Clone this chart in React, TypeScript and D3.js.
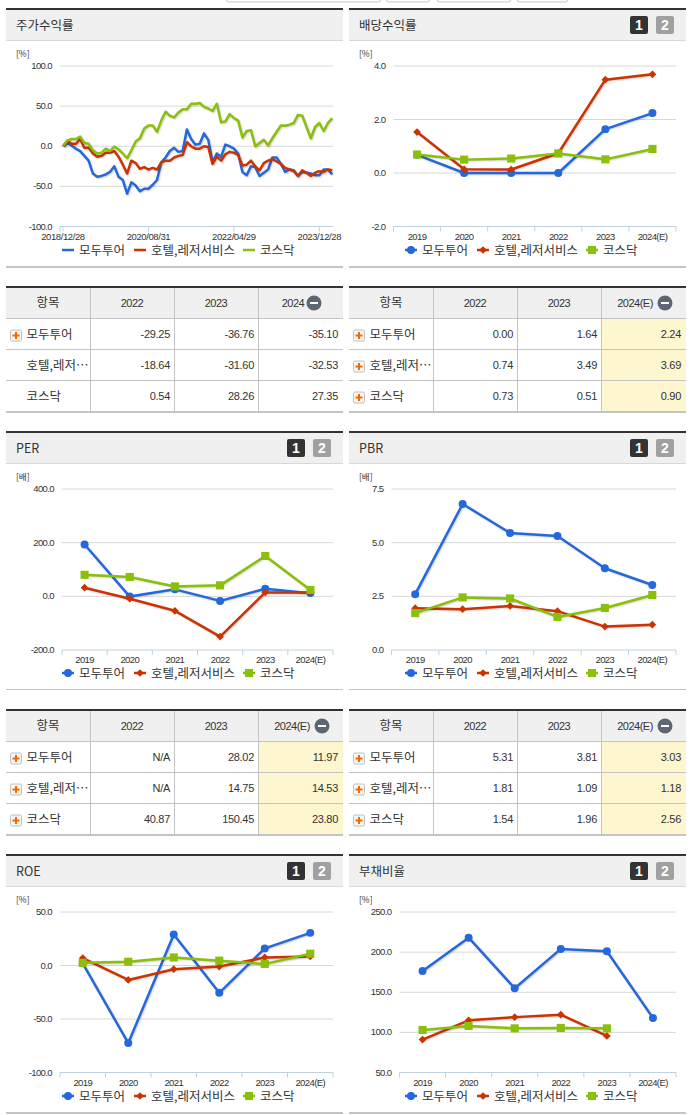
import React from 'react';
import * as d3 from 'd3';

const seriesNames = ['모두투어', '호텔,레저서비스', '코스닥'];
const seriesColors = ['#2468dc', '#cc3300', '#8abf0a'];
const years = ['2019', '2020', '2021', '2022', '2023', '2024(E)'];

// monthly returns, 2018/12/28 onward
const returnDates = ['2018/12/28', '2020/08/31', '2022/04/29', '2023/12/28'];
const returnTickIndex = [0, 20, 40, 60];
const returnTour = [0, 4, 1, -3, -6, -12, -18, -34, -38, -37, -35, -32, -25, -38, -42, -59, -45, -49, -56, -53, -53, -48, -42, -20, -14, -6, -2, -7, -6, 21, 9, 2, 3, 16, 8, -20, -9, -13, 2, 0, -3, -9, -32, -36, -25, -26, -37, -33, -29, -14, -14, -22, -32, -29, -30, -37, -32, -33, -34, -36, -36, -29, -29, -35];
const returnHotel = [0, 7, 3, 3, 9, -2, -2, -9, -13, -12, -8, -8, -6, -13, -23, -34, -18, -21, -28, -26, -29, -27, -29, -20, -18, -18, -14, -12, -11, 5, 0, -3, -3, 0, -1, -22, -13, -18, -10, -7, -8, -11, -24, -23, -18, -25, -30, -21, -18, -16, -19, -22, -27, -29, -31, -37, -30, -33, -37, -33, -31, -32, -29, -30];
const returnKosdaq = [0, 7, 9, 9, 12, 4, 3, -5, -9, -8, -3, -6, -0.5, -4, -9, -15, -5, 6, 10, 22, 26, 26, 18, 32, 43, 38, 36, 42, 46, 46, 53, 53, 54, 49, 47, 44, 53, 30, 31, 40, 35, 32, 11, 19, 20, 0, 4, 8, 1, 10, 18, 26, 25.5, 27, 29, 39, 38, 24, 10, 24, 29, 19, 29, 35];

const dividendTour = [0.68, 0, 0, 0, 1.64, 2.24];
const dividendHotel = [1.53, 0.14, 0.13, 0.74, 3.49, 3.69];
const dividendKosdaq = [0.69, 0.5, 0.54, 0.73, 0.51, 0.9];

const perTour = [193, -1, 26, -17, 28.02, 11.97];
const perHotel = [32, -9, -54, -150, 14.75, 14.53];
const perKosdaq = [80, 72, 37, 40.87, 150.45, 23.8];

const pbrTour = [2.6, 6.8, 5.45, 5.31, 3.81, 3.03];
const pbrHotel = [1.95, 1.9, 2.05, 1.81, 1.09, 1.18];
const pbrKosdaq = [1.72, 2.45, 2.4, 1.54, 1.96, 2.56];

const roeTour = [2, -72.5, 29, -25.5, 16, 30.5];
const roeHotel = [7, -13.5, -3.5, -1, 7.5, 8.5];
const roeKosdaq = [2.5, 3.5, 7.5, 4.5, 1.5, 11];

const debtTour = [176.5, 218, 155, 204, 201, 118];
const debtHotel = [91, 115, 119, 122, 95.5, null];
const debtKosdaq = [103, 108, 105, 105.5, 105, null];

const tableRowNames = ['모두투어', '호텔,레저…', '코스닥'];
const returnTable = [['-29.25', '-36.76', '-35.10'], ['-18.64', '-31.60', '-32.53'], ['0.54', '28.26', '27.35']];
const dividendTable = [['0.00', '1.64', '2.24'], ['0.74', '3.49', '3.69'], ['0.73', '0.51', '0.90']];
const perTable = [['N/A', '28.02', '11.97'], ['N/A', '14.75', '14.53'], ['40.87', '150.45', '23.80']];
const pbrTable = [['5.31', '3.81', '3.03'], ['1.81', '1.09', '1.18'], ['1.54', '1.96', '2.56']];

const KR = '"Noto Sans CJK KR", "Noto Sans", sans-serif';
const NUM = '"Liberation Sans", Arial, sans-serif';
const INK = '#333';

function PanelFrame({ x, y, title, unit, pager, bottom, bottomWidth }: any) {
  return (
    <g transform={`translate(${x},${y})`}>
      <rect width={337} height={32} fill="#f0f0f0" />
      <rect width={337} height={2} fill="#333" />
      <rect y={32} width={337} height={1} fill="#d8d8d8" />
      <text x={10} y={21.5} fontFamily={KR} fontSize={12.5} fill={INK}>{title}</text>
      <text x={10} y={48.5} fontFamily={KR} fontSize={8.5} fill={INK}>{unit}</text>
      {pager && (
        <g fontFamily={NUM} fontWeight="bold" fontSize={14} fill="#fff" textAnchor="middle">
          <rect x={281} y={8} width={18} height={18} rx={2} fill="#333" />
          <text x={290} y={22}>1</text>
          <rect x={307} y={8} width={18} height={18} rx={2} fill="#a0a0a0" />
          <text x={316} y={22}>2</text>
        </g>
      )}
      <rect y={bottom} width={337} height={bottomWidth} fill="#c4c4c4" />
    </g>
  );
}

function Legend({ x, y, markers }: any) {
  const lineAt = [0, 72, 181];
  return (
    <g transform={`translate(${x},${y})`}>
      {seriesNames.map((name, i) => (
        <g key={name} transform={`translate(${lineAt[i]},0)`}>
          <line x1={0} x2={12} stroke={seriesColors[i]} strokeWidth={2.5} />
          {markers && <Marker kind={i} color={seriesColors[i]} x={6} y={0} />}
          <text x={17} y={4.5} fontFamily={KR} fontSize={12.5} fill={INK}>{name}</text>
        </g>
      ))}
    </g>
  );
}

const symbolTypes = [d3.symbolCircle, d3.symbolSquare, d3.symbolSquare];
const symbolSizes = [50, 30, 66];

function Marker({ kind, color, x, y }: any) {
  const d = d3.symbol().type(symbolTypes[kind]).size(symbolSizes[kind])() as string;
  // hotel series marker is a square turned into a diamond
  const turn = kind === 1 ? ' rotate(45)' : '';
  return <path d={d} fill={color} transform={`translate(${x},${y})${turn}`} />;
}

function Shadowed({ d }: { d: string }) {
  return (
    <g transform="translate(1,1)" fill="none" stroke="#000" strokeLinejoin="round">
      <path d={d} strokeWidth={5} strokeOpacity={0.03} />
      <path d={d} strokeWidth={3} strokeOpacity={0.07} />
      <path d={d} strokeWidth={1} strokeOpacity={0.12} />
    </g>
  );
}

function YearChart({ x0, x1, top, bottom, domain, ticks, series, tickFormat }: any) {
  const x = d3.scaleBand<string>().domain(years).range([x0, x1]);
  const y = d3.scaleLinear().domain(domain).range([bottom, top]);
  const cx = (i: number) => (x(years[i]) as number) + x.bandwidth() / 2;
  const line = d3
    .line<number | null>()
    .defined((v) => v !== null)
    .x((_, i) => cx(i))
    .y((v) => y(v as number));
  return (
    <g>
      {ticks.map((t: number) => (
        <g key={t}>
          <line x1={x0} x2={x1} y1={y(t)} y2={y(t)} stroke={t === domain[0] ? '#c0d0e0' : '#d8d8d8'} />
          <text x={x0 - 8} y={y(t) + 3} textAnchor="end" fontFamily={NUM} fontSize={9.5} letterSpacing={-0.6} fill={INK}>
            {tickFormat(t)}
          </text>
        </g>
      ))}
      {years.map((c) => (
        <g key={c}>
          <line x1={x(c)} x2={x(c)} y1={bottom} y2={bottom + 5} stroke="#c0d0e0" />
          <text x={(x(c) as number) + x.bandwidth() / 2} y={bottom + 13} textAnchor="middle" fontFamily={NUM} fontSize={9.5} letterSpacing={-0.6} fill={INK}>
            {c}
          </text>
        </g>
      ))}
      <line x1={x1} x2={x1} y1={bottom} y2={bottom + 5} stroke="#c0d0e0" />
      {series.map((values: (number | null)[], s: number) => (
        <g key={s}>
          <Shadowed d={line(values) as string} />
          <path d={line(values) as string} fill="none" stroke={seriesColors[s]} strokeWidth={2.5} strokeLinejoin="round" />
          {values.map((v, i) => v !== null && <Marker key={i} kind={s} color={seriesColors[s]} x={cx(i)} y={y(v)} />)}
        </g>
      ))}
    </g>
  );
}

function ReturnChart({ x0, x1, top, bottom }: any) {
  const x = d3.scaleLinear().domain([-0.7, 63.2]).range([x0, x1]);
  const y = d3.scaleLinear().domain([-100, 100]).range([bottom, top]);
  const line = d3
    .line<number>()
    .x((_, i) => x(i))
    .y((v) => y(v));
  return (
    <g>
      {[-100, -50, 0, 50, 100].map((t) => (
        <g key={t}>
          <line x1={x0} x2={x1} y1={y(t)} y2={y(t)} stroke={t === -100 ? '#c0d0e0' : '#d8d8d8'} />
          <text x={x0 - 8} y={y(t) + 3} textAnchor="end" fontFamily={NUM} fontSize={9.5} letterSpacing={-0.6} fill={INK}>
            {t.toFixed(1)}
          </text>
        </g>
      ))}
      <line x1={x0} x2={x0} y1={bottom} y2={bottom + 5} stroke="#c0d0e0" />
      {returnTickIndex.map((t, i) => (
        <g key={t}>
          <line x1={x(t)} x2={x(t)} y1={bottom} y2={bottom + 5} stroke="#c0d0e0" />
          <text x={x(t)} y={bottom + 13} textAnchor="middle" fontFamily={NUM} fontSize={9.5} letterSpacing={-0.4} fill={INK}>
            {returnDates[i]}
          </text>
        </g>
      ))}
      {[returnTour, returnHotel, returnKosdaq].map((values, s) => (
        <g key={s}>
          <Shadowed d={line(values) as string} />
          <path d={line(values) as string} fill="none" stroke={seriesColors[s]} strokeWidth={2.5} strokeLinejoin="round" />
        </g>
      ))}
    </g>
  );
}

function PlusIcon({ x, y }: any) {
  return (
    <g transform={`translate(${x},${y})`}>
      <rect x={-5.5} y={-5.5} width={11} height={11} rx={1.5} fill="#f6f6f6" stroke="#c0c0c0" />
      <path d="M-3.5,0H3.5M0,-3.5V3.5" stroke="#f26a00" strokeWidth={2} />
    </g>
  );
}

function DataTable({ x, y, columns, rows, plusRows, highlight }: any) {
  const colX = d3.scaleLinear().domain([0, 3]).range([0, 252]);
  const rowTop = d3.scaleLinear().domain([0, 3]).range([32, 125]);
  const lastCol = colX(3);
  return (
    <g transform={`translate(${x},${y})`}>
      <rect y={1} width={337} height={31} fill="#f0f0f0" />
      {highlight && <rect x={lastCol} y={rowTop(0)} width={85} height={93} fill="#fdf6cf" />}
      <rect width={337} height={2} fill="#333" />
      <text x={42} y={21} textAnchor="middle" fontFamily={KR} fontSize={12.5} fill={INK}>항목</text>
      {columns.map((c: string, i: number) => (
        <text key={c} x={colX(i + 1) + (i === 2 ? (highlight ? 34 : 35) : 42)} y={20.5} textAnchor="middle" fontFamily={NUM} fontSize={11} letterSpacing={-0.5} fill={INK}>
          {c}
        </text>
      ))}
      <circle cx={lastCol + (highlight ? 64 : 56)} cy={17} r={7.5} fill="#5f6673" />
      <rect x={lastCol + (highlight ? 60 : 52)} y={16} width={8} height={2} fill="#fff" />
      {[1, 2, 3].map((c) => (
        <line key={c} x1={colX(c) + 0.5} x2={colX(c) + 0.5} y1={2} y2={125} stroke="#c4c4c4" />
      ))}
      {[0, 1, 2].map((r) => (
        <line key={r} x1={0} x2={337} y1={rowTop(r) + 0.5} y2={rowTop(r) + 0.5} stroke="#c4c4c4" />
      ))}
      <rect y={125} width={337} height={2} fill="#c4c4c4" />
      {rows.map((row: string[], r: number) => {
        const mid = (rowTop(r) + rowTop(r + 1)) / 2;
        return (
          <g key={r}>
            {plusRows[r] && <PlusIcon x={10} y={mid + 2} />}
            <text x={20.5} y={mid + 5} fontFamily={KR} fontSize={12.5} fill={INK}>{tableRowNames[r]}</text>
            {row.map((v, c) => (
              <text key={c} x={colX(c + 2) - 4} y={mid + 4.5} textAnchor="end" fontFamily={NUM} fontSize={11} letterSpacing={-0.3} fill={INK}>
                {v}
              </text>
            ))}
          </g>
        );
      })}
    </g>
  );
}

const fixed1 = (t: number) => t.toFixed(1);
const topTabs = [[226, 381], [386, 430], [437, 511], [517, 568]];

export default function App() {
  return (
    <svg width={691} height={1115} style={{ position: 'absolute', left: 0, top: 0, background: '#fff' }}>
      {topTabs.map(([a, b]) => (
        <rect key={a} x={a} y={-10} width={b - a} height={12} rx={3} fill="#fff" stroke="#c8c8c8" />
      ))}

      <PanelFrame x={6} y={8} title="주가수익률" unit="[%]" bottom={258} bottomWidth={2} />
      <ReturnChart x0={60} x1={333} top={66} bottom={226.5} />
      <Legend x={62} y={250} />

      <PanelFrame x={349} y={8} title="배당수익률" unit="[%]" pager bottom={258} bottomWidth={2} />
      <YearChart x0={393.5} x1={676} top={66} bottom={226.5} domain={[-2, 4]} ticks={[-2, 0, 2, 4]} series={[dividendTour, dividendHotel, dividendKosdaq]} tickFormat={fixed1} />
      <Legend x={405} y={250} markers />

      <DataTable x={6} y={286} columns={['2022', '2023', '2024']} rows={returnTable} plusRows={[true, false, false]} />
      <DataTable x={349} y={286} columns={['2022', '2023', '2024(E)']} rows={dividendTable} plusRows={[true, true, true]} highlight />

      <PanelFrame x={6} y={431} title="PER" unit="[배]" pager bottom={258} bottomWidth={1} />
      <YearChart x0={62} x1={333} top={489} bottom={650} domain={[-200, 400]} ticks={[-200, 0, 200, 400]} series={[perTour, perHotel, perKosdaq]} tickFormat={fixed1} />
      <Legend x={62} y={673} markers />

      <PanelFrame x={349} y={431} title="PBR" unit="[배]" pager bottom={258} bottomWidth={1} />
      <YearChart x0={391.5} x1={676} top={489} bottom={650} domain={[0, 7.5]} ticks={[0, 2.5, 5, 7.5]} series={[pbrTour, pbrHotel, pbrKosdaq]} tickFormat={fixed1} />
      <Legend x={405} y={673} markers />

      <DataTable x={6} y={709} columns={['2022', '2023', '2024(E)']} rows={perTable} plusRows={[true, true, true]} highlight />
      <DataTable x={349} y={709} columns={['2022', '2023', '2024(E)']} rows={pbrTable} plusRows={[true, true, true]} highlight />

      <PanelFrame x={6} y={854} title="ROE" unit="[%]" pager bottom={258} bottomWidth={2} />
      <YearChart x0={60} x1={333} top={912} bottom={1072.5} domain={[-100, 50]} ticks={[-100, -50, 0, 50]} series={[roeTour, roeHotel, roeKosdaq]} tickFormat={fixed1} />
      <Legend x={62} y={1096} markers />

      <PanelFrame x={349} y={854} title="부채비율" unit="[%]" pager bottom={258} bottomWidth={2} />
      <YearChart x0={399.5} x1={676} top={912} bottom={1072.5} domain={[50, 250]} ticks={[50, 100, 150, 200, 250]} series={[debtTour, debtHotel, debtKosdaq]} tickFormat={fixed1} />
      <Legend x={405} y={1096} markers />
    </svg>
  );
}
